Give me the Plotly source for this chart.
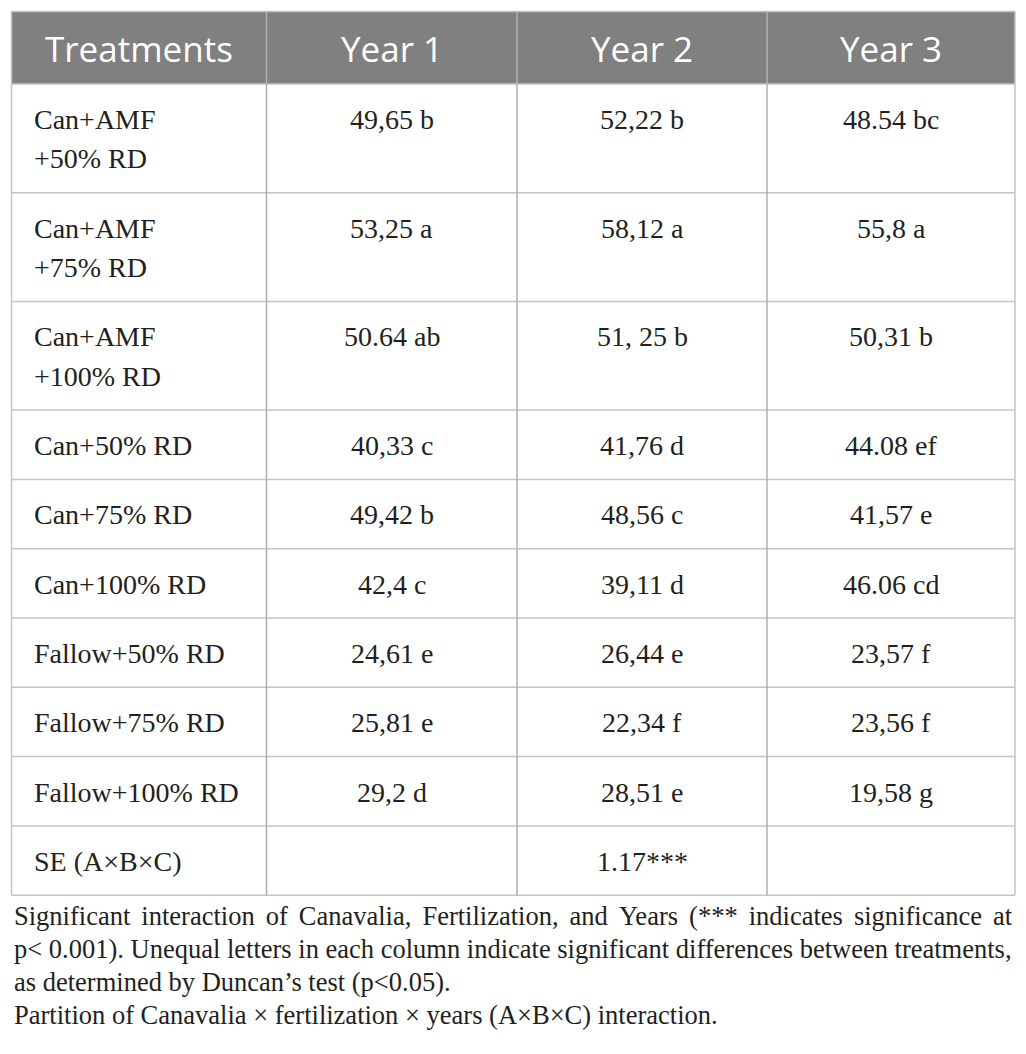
import plotly.graph_objects as go

# ---------------- data ----------------
headers = ["Treatments", "Year 1", "Year 2", "Year 3"]
treatments = [
    "Can+AMF<br>+50% RD",
    "Can+AMF<br>+75% RD",
    "Can+AMF<br>+100% RD",
    "Can+50% RD",
    "Can+75% RD",
    "Can+100% RD",
    "Fallow+50% RD",
    "Fallow+75% RD",
    "Fallow+100% RD",
    "SE (A×B×C)",
]
year1 = ["49,65 b", "53,25 a", "50.64 ab", "40,33 c", "49,42 b", "42,4 c",
         "24,61 e", "25,81 e", "29,2 d", ""]
year2 = ["52,22 b", "58,12 a", "51, 25 b", "41,76 d", "48,56 c", "39,11 d",
         "26,44 e", "22,34 f", "28,51 e", "1.17***"]
year3 = ["48.54 bc", "55,8 a", "50,31 b", "44.08 ef", "41,57 e", "46.06 cd",
         "23,57 f", "23,56 f", "19,58 g", ""]
footnotes = [
    "Significant interaction of Canavalia, Fertilization, and Years (*** indicates significance at",
    "p< 0.001). Unequal letters in each column indicate significant differences between treatments,",
    "as determined by Duncan’s test (p<0.05).",
    "Partition of Canavalia × fertilization × years (A×B×C) interaction.",
]

# ---------------- layout parameters ----------------
W, H = 1026, 1054
PAGE_MARGIN = 8  # default body margin of the html page
col_edges = [11.5, 266.5, 517, 767, 1015]
table_top = 11.5
header_h = 72.5
line_h = 39.4
row_pad = 29.9
first_line_offset = 35.5
header_bg = "#808080"
grid = "#c4c4c4"
txt = "#231f20"
serif = "Liberation Serif"
sans = "Open Sans"
body_size = 28
head_size = 35
foot_size = 26.5
foot_y0 = 916
foot_dy = 33
justified_lines = {0}

columns = [treatments, year1, year2, year3]

fig = go.Figure()
shapes = []
annotations = []

# header background
shapes.append(dict(type="rect", x0=col_edges[0], x1=col_edges[-1], y0=table_top,
                   y1=table_top + header_h, fillcolor=header_bg, line=dict(width=0),
                   layer="below"))
for j, h in enumerate(headers):
    annotations.append(dict(x=(col_edges[j] + col_edges[j + 1]) / 2,
                            y=table_top + header_h / 2 + 1, text=h, showarrow=False,
                            xanchor="center", yanchor="middle",
                            font=dict(family=sans, size=head_size, color="white")))

# row boundaries
row_tops = []
y = table_top + header_h
for t in treatments:
    n = len(t.split("<br>"))
    row_tops.append(y)
    y += row_pad + n * line_h
table_bottom = y
row_edges = row_tops + [table_bottom]

# grid lines
for ry in [table_top] + row_edges:
    shapes.append(dict(type="line", x0=col_edges[0], x1=col_edges[-1], y0=ry, y1=ry,
                       line=dict(color=grid, width=1.5)))
for j, cx in enumerate(col_edges):
    shapes.append(dict(type="line", x0=cx, x1=cx, y0=table_top, y1=table_bottom,
                       line=dict(color=grid if j in (0, len(col_edges) - 1) else "#b0b0b0",
                                 width=1.5), layer="above"))

# cell texts
for i in range(len(treatments)):
    for j, col in enumerate(columns):
        lines = col[i].split("<br>")
        for k, ln in enumerate(lines):
            if not ln:
                continue
            if j == 0:
                xx, xa = col_edges[0] + 20, "left"
            else:
                xx, xa = (col_edges[j] + col_edges[j + 1]) / 2, "center"
            annotations.append(dict(x=xx, y=row_tops[i] + first_line_offset + k * line_h,
                                    text=ln, showarrow=False, xanchor=xa, yanchor="middle",
                                    font=dict(family=serif, size=body_size, color=txt)))

# footnotes
for k, ln in enumerate(footnotes):
    if k in justified_lines:
        ln = ln.replace(" ", " \u2006")
    annotations.append(dict(x=col_edges[0], y=foot_y0 + k * foot_dy, text=ln, showarrow=False,
                            xanchor="left", yanchor="middle",
                            font=dict(family=serif, size=foot_size, color=txt)))

fig.update_layout(
    width=W - 2 * PAGE_MARGIN, height=H - 2 * PAGE_MARGIN,
    margin=dict(l=0, r=0, t=0, b=0, pad=0),
    paper_bgcolor="white", plot_bgcolor="white",
    xaxis=dict(range=[PAGE_MARGIN, W - PAGE_MARGIN], visible=False, fixedrange=True),
    yaxis=dict(range=[H - PAGE_MARGIN, PAGE_MARGIN], visible=False, fixedrange=True),
    shapes=shapes, annotations=annotations, showlegend=False,
)
fig.write_html("out.html")
